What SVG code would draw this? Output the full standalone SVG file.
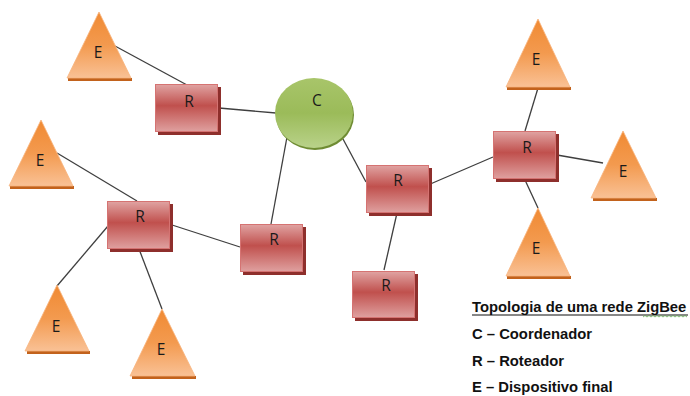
<svg xmlns="http://www.w3.org/2000/svg" width="690" height="396" viewBox="0 0 690 396">
<defs>
<linearGradient id="gR" x1="0" y1="0" x2="0" y2="1">
<stop offset="0" stop-color="#E0A3A2"/>
<stop offset="0.45" stop-color="#C0504D"/>
<stop offset="1" stop-color="#DFA09F"/>
</linearGradient>
<linearGradient id="gE" x1="0" y1="0" x2="0" y2="1">
<stop offset="0" stop-color="#F08A33"/>
<stop offset="0.5" stop-color="#F39A4F"/>
<stop offset="1" stop-color="#F9C195"/>
</linearGradient>
<linearGradient id="gC" x1="0" y1="0" x2="0" y2="1">
<stop offset="0" stop-color="#A8C56A"/>
<stop offset="0.5" stop-color="#9BBB59"/>
<stop offset="1" stop-color="#B9D28A"/>
</linearGradient>
<style>
.ln{stroke:#3f3f3f;stroke-width:1.3;fill:none}
.rs{fill:#8E2F2C}
.rr{fill:url(#gR);stroke:#D57372;stroke-width:1}
.ts{fill:#C2621C}
.tt{fill:url(#gE);stroke:#F7B47E;stroke-width:0.8}
.lb{font-family:"Open Sans","Liberation Sans",sans-serif;font-size:15.5px;fill:#1a1a1a;text-anchor:middle}
.lg{font-family:"Liberation Sans",Arial,sans-serif;font-size:14.8px;font-weight:bold;fill:#111}
</style>
</defs>
<rect width="690" height="396" fill="#fff"/>
<g id="connectors">
<line class="ln" x1="115" y1="46" x2="187" y2="85"/>
<line class="ln" x1="219" y1="108" x2="276" y2="113"/>
<line class="ln" x1="287" y1="137" x2="271" y2="224"/>
<line class="ln" x1="343" y1="139" x2="366" y2="182"/>
<line class="ln" x1="428" y1="185" x2="493" y2="157"/>
<line class="ln" x1="538" y1="88" x2="525" y2="131"/>
<line class="ln" x1="557" y1="155" x2="603" y2="163"/>
<line class="ln" x1="525" y1="180" x2="538" y2="208"/>
<line class="ln" x1="397" y1="213" x2="384" y2="270"/>
<line class="ln" x1="169" y1="224" x2="240" y2="247"/>
<line class="ln" x1="57" y1="153" x2="137" y2="201"/>
<line class="ln" x1="108" y1="226" x2="57" y2="286"/>
<line class="ln" x1="139" y1="249" x2="162" y2="309"/>
</g>
<g id="C">
<ellipse cx="315" cy="115" rx="39" ry="35" fill="#6F8C33"/>
<ellipse cx="314" cy="113" rx="39" ry="35" fill="url(#gC)"/>
<text class="lb" x="317" y="106">C</text>
</g>
<g id="R1">
<rect class="rs" x="158" y="87" width="63" height="48"/>
<rect class="rr" x="155.5" y="84.5" width="62" height="47"/>
<text class="lb" x="189" y="107">R</text>
</g>
<g id="R2">
<rect class="rs" x="110" y="204" width="63" height="48"/>
<rect class="rr" x="107.5" y="201.5" width="62" height="47"/>
<text class="lb" x="140" y="222">R</text>
</g>
<g id="R3">
<rect class="rs" x="243" y="227" width="63" height="48"/>
<rect class="rr" x="240.5" y="224.5" width="62" height="47"/>
<text class="lb" x="274" y="245">R</text>
</g>
<g id="R4">
<rect class="rs" x="369" y="168" width="63" height="48"/>
<rect class="rr" x="366.5" y="165.5" width="62" height="47"/>
<text class="lb" x="398" y="186">R</text>
</g>
<g id="R5">
<rect class="rs" x="355" y="274" width="63" height="47"/>
<rect class="rr" x="352.5" y="271.5" width="62" height="46"/>
<text class="lb" x="386" y="291">R</text>
</g>
<g id="R6">
<rect class="rs" x="496" y="134" width="63" height="48"/>
<rect class="rr" x="493.5" y="131.5" width="62" height="47"/>
<text class="lb" x="527" y="153">R</text>
</g>
<g id="E1">
<polygon class="ts" points="68,78 132,78 132,81 68,81"/>
<polygon class="tt" points="99,12 131,78 67,78"/>
<text class="lb" x="98" y="58">E</text>
</g>
<g id="E2">
<polygon class="ts" points="10,186 74,186 74,189 10,189"/>
<polygon class="tt" points="41,120 73,186 9,186"/>
<text class="lb" x="40" y="166">E</text>
</g>
<g id="E3">
<polygon class="ts" points="27,351 90,351 90,354 27,354"/>
<polygon class="tt" points="57,285 89,351 25,351"/>
<text class="lb" x="56" y="332">E</text>
</g>
<g id="E4">
<polygon class="ts" points="132,376 196,376 196,379 132,379"/>
<polygon class="tt" points="162,309 195,376 130,376"/>
<text class="lb" x="161" y="355">E</text>
</g>
<g id="E5">
<polygon class="ts" points="507,87 571,87 571,90 507,90"/>
<polygon class="tt" points="538,19 570,87 506,87"/>
<text class="lb" x="536" y="65">E</text>
</g>
<g id="E6">
<polygon class="ts" points="593,198 657,198 657,201 593,201"/>
<polygon class="tt" points="623,131 656,198 591,198"/>
<text class="lb" x="623" y="177">E</text>
</g>
<g id="E7">
<polygon class="ts" points="507,276 571,276 571,279 507,279"/>
<polygon class="tt" points="538,208 570,276 506,276"/>
<text class="lb" x="536" y="254">E</text>
</g>
<g id="legend">
<text class="lg" x="472" y="312">Topologia de uma rede ZigBee</text>
<line x1="472" y1="315" x2="688" y2="315" stroke="#111" stroke-width="1.2"/>
<path d="M643,317 l2,-1.5 l2,1.5 l2,-1.5 l2,1.5 l2,-1.5 l2,1.5 l2,-1.5 l2,1.5 l2,-1.5 l2,1.5 l2,-1.5 l2,1.5 l2,-1.5 l2,1.5 l2,-1.5 l2,1.5 l2,-1.5 l2,1.5 l2,-1.5 l2,1.5 l2,-1.5 l2,1.5" fill="none" stroke="#5FA84F" stroke-width="0.8"/>
<text class="lg" x="472" y="339">C – Coordenador</text>
<text class="lg" x="472" y="366">R – Roteador</text>
<text class="lg" x="472" y="392">E – Dispositivo final</text>
</g>
</svg>
